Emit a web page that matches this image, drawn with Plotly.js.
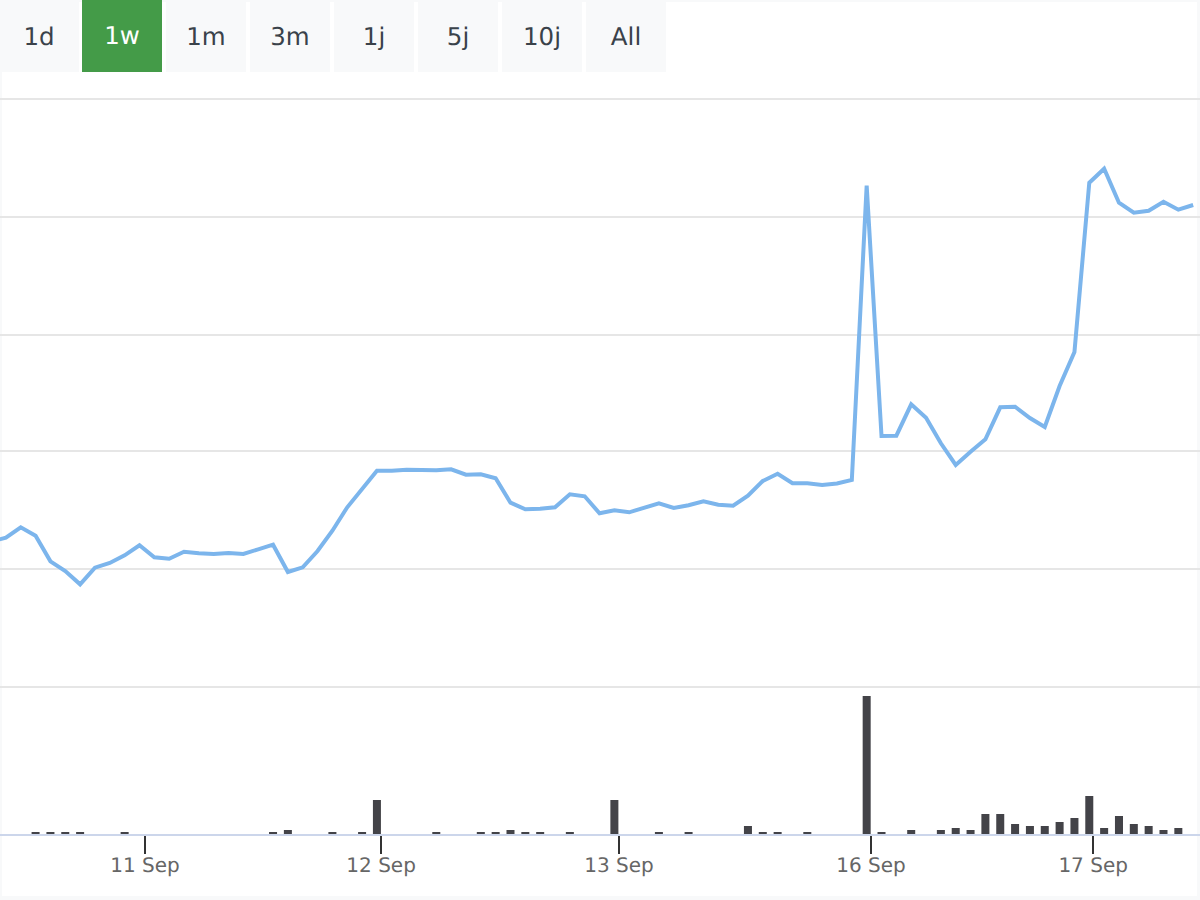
<!DOCTYPE html>
<html>
<head>
<meta charset="utf-8">
<script src="https://cdn.plot.ly/plotly-3.0.1.min.js"></script>
<style>
    html, body { margin: 0; padding: 0; width: 1200px; height: 900px; overflow: hidden; background: #f8f9fa; }
    #panel { position: absolute; left: 2px; top: 2px; width: 1195px; height: 894px; background: #fff; }
    #graph_div { position: absolute; left: 0; top: 0; width: 1200px; height: 900px; }
    #graph_div text { text-rendering: geometricPrecision; }
    #buttons { position: absolute; left: 0; top: 0; font-family: "DejaVu Sans", sans-serif; font-size: 24.5px; text-rendering: geometricPrecision; }
    #buttons div { position: absolute; top: 2px; height: 70px; line-height: 70px; width: 80px; text-align: center; background: #f8f9fa; color: #3a424a; }
    #buttons div.active { top: 0; height: 72px; line-height: 72px; background: #449b48; color: #fff; }
</style>
</head>
<body>
<div id="panel"></div>
<div id="graph_div"></div>
<div id="buttons"></div>
<script>
// no value labels in the picture, so the series are read as height above the lower gridline
const range_labels = ['1d', '1w', '1m', '3m', '1j', '5j', '10j', 'All'];
const active_range = '1w';

const price = [
    145.5, 149.3, 159.7, 151.3, 125.7, 116, 102.7, 119.3, 124, 131.7, 141.7,
    129.7, 128.3, 135.3, 133.7, 133, 134, 133, 137.7, 142.3, 115,
    119.7, 136, 156.3, 179.7, 198, 216.3, 216.3, 217.3, 217, 216.8,
    217.7, 212.3, 212.7, 208.7, 184.3, 177.7, 178.3, 179.7, 192.7, 190.7,
    173.7, 176.7, 174.7, 179.7, 183.7, 179, 181.7, 185.7, 182.3, 181.3,
    191.3, 206, 213.3, 203.7, 203.7, 202, 203.5, 207, 501.3, 251,
    251.3, 282.7, 269.3, 243.7, 222, 235.3, 247.7, 279.7, 280.3, 269,
    260, 301, 335, 504.3, 518.3, 484.3, 474.3, 476.3, 485.3, 477.3, 482
];

const volume_slots = [
    2, 3, 4, 5, 8, 18, 19, 22, 24, 25, 29, 32, 33, 34, 35, 36, 38, 41, 44, 46,
    50, 51, 52, 54, 58, 59, 61, 63, 64, 65, 66, 67, 68, 69, 70, 71, 72, 73, 74,
    75, 76, 77, 78, 79
];
const volume = [
    2, 2, 2, 2, 2, 2, 4, 2, 2, 34, 2, 2, 2, 4, 2, 2, 2, 34, 2, 2,
    8, 2, 2, 2, 138, 2, 4, 4, 6, 4, 20, 20, 10, 8, 8, 12, 16, 38, 6,
    18, 10, 8, 4, 6
];

const tick_slots = [9.37, 25.28, 41.31, 58.29, 73.26];
const tick_labels = ['11 Sep', '12 Sep', '13 Sep', '16 Sep', '17 Sep'];
const grid_levels = [0, 118, 236, 352, 470, 588];

const price_slots = price.map((v, i) => i - 1);

// range buttons
const buttons = document.getElementById('buttons');
range_labels.forEach((label, i) => {
    const el = document.createElement('div');
    el.textContent = label;
    el.style.left = (i === 0 ? -1 : 84 * i - 2) + 'px';
    if (label === active_range) {
        el.className = 'active';
    }
    buttons.appendChild(el);
});

const price_trace = {
    x: price_slots,
    y: price,
    type: 'scatter',
    mode: 'lines',
    line: { color: '#7cb5ec', width: 4, shape: 'linear' },
    xaxis: 'x',
    yaxis: 'y',
    hoverinfo: 'skip'
};

const volume_trace = {
    x: volume_slots,
    y: volume,
    type: 'bar',
    width: 0.54,
    marker: { color: '#434348', line: { width: 0 } },
    xaxis: 'x',
    yaxis: 'y2',
    hoverinfo: 'skip'
};

const layout = {
    width: 1200,
    height: 900,
    margin: { l: 0, r: 0, t: 0, b: 0 },
    paper_bgcolor: 'rgba(0,0,0,0)',
    plot_bgcolor: 'rgba(0,0,0,0)',
    showlegend: false,
    xaxis: {
        range: [-0.398, 80.46],
        anchor: 'y2',
        tickmode: 'array',
        tickvals: tick_slots,
        ticktext: tick_labels,
        ticks: 'outside',
        ticklen: 18,
        tickwidth: 2,
        tickcolor: '#333333',
        tickfont: { family: 'DejaVu Sans', size: 20, color: '#666666' },
        ticklabelstandoff: -6,
        showgrid: false,
        zeroline: false,
        showline: true,
        linecolor: '#ccd6eb',
        linewidth: 2
    },
    yaxis: {
        domain: [1 - 691 / 900, 1 - 95 / 900],
        range: [-4, 592],
        anchor: 'x',
        tickmode: 'array',
        tickvals: grid_levels,
        showticklabels: false,
        ticks: '',
        showgrid: true,
        gridcolor: '#e6e6e6',
        gridwidth: 2,
        zeroline: false,
        showline: false
    },
    yaxis2: {
        domain: [1 - 834 / 900, 1 - 687 / 900],
        range: [0, 147],
        anchor: 'x',
        showticklabels: false,
        ticks: '',
        showgrid: false,
        zeroline: false,
        showline: false
    }
};

Plotly.newPlot('graph_div', [price_trace, volume_trace], layout, { displayModeBar: false, staticPlot: true });
</script>
</body>
</html>
